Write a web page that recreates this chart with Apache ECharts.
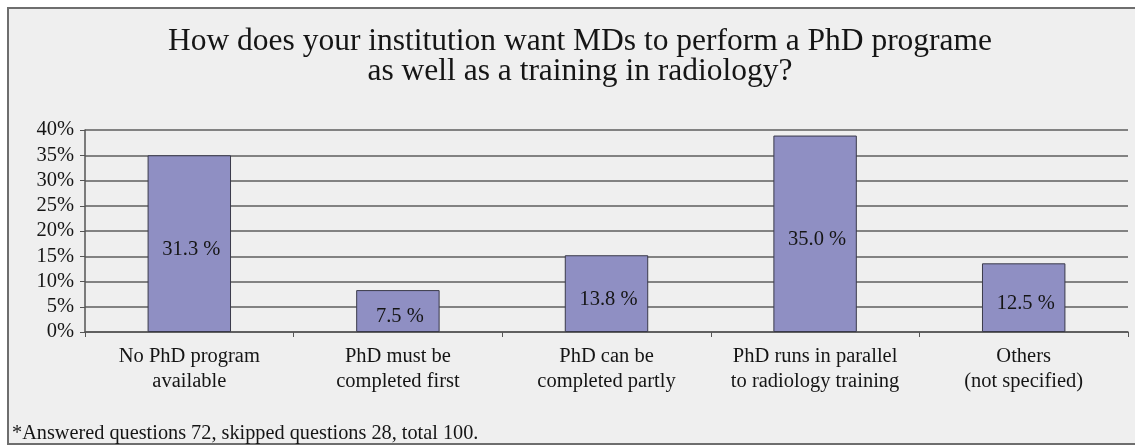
<!DOCTYPE html>
<html>
<head>
<meta charset="utf-8">
<script src="https://cdn.jsdelivr.net/npm/echarts@6/dist/echarts.min.js"></script>
<style>
  html, body { margin: 0; padding: 0; background: #fff; }
  #chart { width: 1135px; height: 446px; }
</style>
</head>
<body>
<div id="chart"></div>
<script>
// Data
const categories = [
  'No PhD program\navailable',
  'PhD must be\ncompleted first',
  'PhD can be\ncompleted partly',
  'PhD runs in parallel\nto radiology training',
  'Others\n(not specified)',
];
const barValues = [35.0, 8.3, 15.2, 38.9, 13.6];
const valueLabels = ['31.3 %', '7.5 %', '13.8 %', '35.0 %', '12.5 %'];
const yTicks = { min: 0, max: 40, interval: 5 };

const serif = '"Liberation Serif", "DejaVu Serif", serif';
const textColor = '#151515';

const chart = echarts.init(document.getElementById('chart'));

chart.setOption({
  backgroundColor: '#ffffff',
  animation: false,
  graphic: [
    {
      type: 'rect',
      z: -10,
      shape: { x: 8, y: 8, width: 1200, height: 436 },
      style: { fill: '#efefef', stroke: '#6e6e6e', lineWidth: 2 },
    },
    {
      type: 'text',
      x: 580,
      y: 27,
      style: {
        text: 'How does your institution want MDs to perform a PhD programe\nas well as a training in radiology?',
        font: '31.5px ' + serif,
        align: 'center',
        lineHeight: 30,
        fill: textColor,
      },
    },
    {
      type: 'text',
      left: 12,
      top: 424,
      style: {
        text: '*Answered questions 72, skipped questions 28, total 100.',
        font: '20.3px ' + serif,
        fill: textColor,
      },
    },
  ],
  grid: {
    left: 85,
    right: 7,
    top: 130,
    bottom: 114,
    containLabel: false,
  },
  xAxis: {
    type: 'category',
    data: categories,
    boundaryGap: true,
    axisLine: { lineStyle: { color: '#555', width: 1.5 } },
    axisTick: { show: true, alignWithLabel: false, length: 5, lineStyle: { color: '#555' } },
    axisLabel: {
      interval: 0,
      margin: 12,
      fontFamily: serif,
      fontSize: 20.5,
      lineHeight: 25,
      color: textColor,
    },
  },
  yAxis: {
    type: 'value',
    min: yTicks.min,
    max: yTicks.max,
    interval: yTicks.interval,
    axisLine: { show: true, lineStyle: { color: '#555', width: 1.5 } },
    axisTick: { show: true, length: 5, lineStyle: { color: '#555' } },
    splitLine: { lineStyle: { color: '#5e5e5e', width: 1.6 } },
    axisLabel: {
      formatter: '{value}%',
      margin: 11,
      fontFamily: serif,
      fontSize: 20.5,
      color: textColor,
    },
  },
  series: [
    {
      type: 'bar',
      data: barValues,
      barWidth: '40%',
      itemStyle: { color: '#8f8fc3', borderColor: '#3a3a4a', borderWidth: 1 },
      label: {
        show: true,
        position: 'inside',
        offset: [2, 6],
        formatter: (p) => valueLabels[p.dataIndex],
        fontFamily: serif,
        fontSize: 20.5,
        color: textColor,
      },
    },
  ],
});
</script>
</body>
</html>
